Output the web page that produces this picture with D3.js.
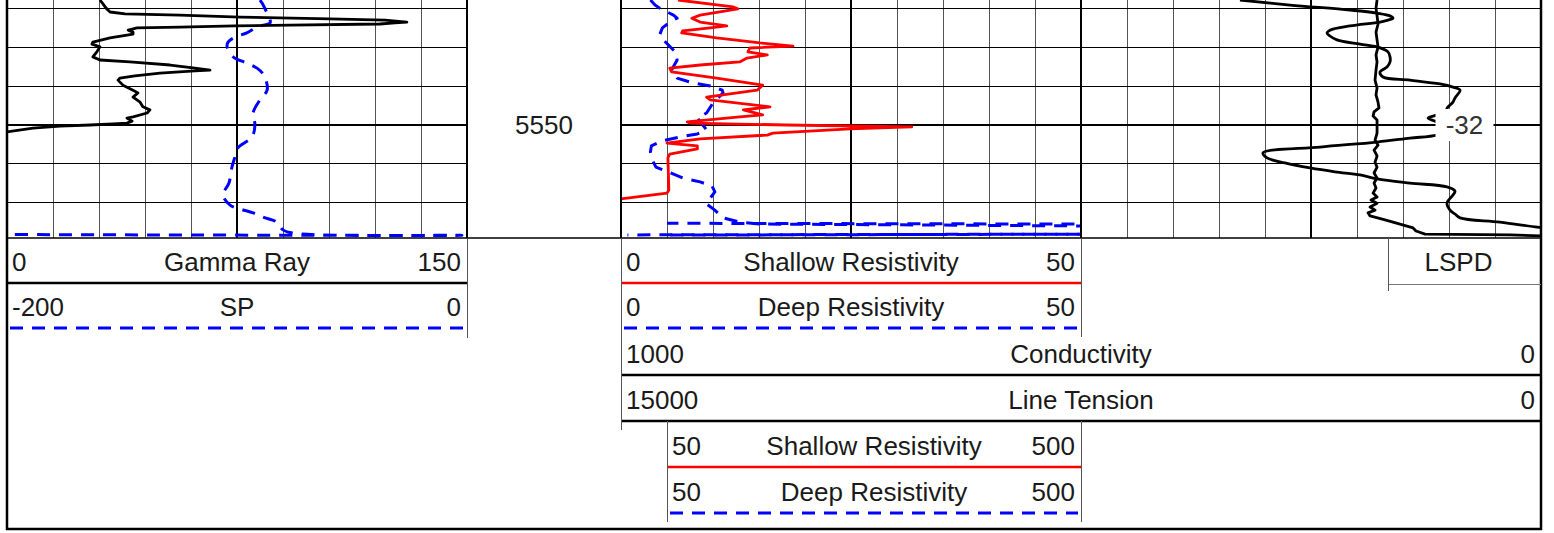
<!DOCTYPE html>
<html>
<head>
<meta charset="utf-8">
<script src="https://cdnjs.cloudflare.com/ajax/libs/d3/7.8.5/d3.min.js"></script>
<style>
body { margin: 0; background: #fff; }
text { font-family: "Liberation Sans", Arial, sans-serif; fill: #1a1a1a; }
</style>
</head>
<body>
<div id="log"></div>
<script>
// depth curves (depth in ft, value in curve units)
var grDepth = [5517.7,5518.7,5519.8,5520.8,5521.3,5521.6,5522.1,5522.6,5522.9,5523.4,5523.6,5523.9,5524.2,5524.4,5524.7,5524.9,5525.5,5526.0,5526.5,5527.5,5528.6,5529.1,5529.8,5531.1,5532.4,5533.2,5533.7,5534.5,5535.3,5535.8,5536.0,5536.6,5537.3,5537.9,5538.4,5539.7,5541.0,5541.7,5542.8,5544.1,5545.3,5546.1,5546.9,5547.9,5548.2,5549.0,5549.5,5549.7,5550.0,5550.3,5550.8,5551.8];
var grValue = [30.3,31.3,32.3,33.6,38.5,56.4,76.0,105.3,123.3,130.4,126.5,121.6,92.3,74.3,56.4,42.4,39.5,41.1,41.1,33.6,28.0,27.7,30.3,29.3,28.0,30.3,40.1,53.2,61.3,66.2,61.3,49.9,41.7,36.8,36.2,37.8,41.1,42.7,41.1,43.4,44.3,46.6,45.7,41.1,39.1,40.8,39.1,34.6,27.1,17.3,8.5,0];

var spDepth = [5517.7,5518.5,5521.1,5522.9,5523.6,5524.7,5526.2,5527.3,5528.6,5529.8,5532.4,5534.0,5535.3,5536.8,5538.4,5541.0,5543.5,5546.9,5550.0,5553.1,5555.9,5558.3,5560.9,5565.0,5568.1,5570.7,5571.7,5572.7,5573.8,5575.1,5577.1,5578.0,5578.5,5578.3];
var spValue = [-90.0,-89.1,-86.9,-85.6,-85.6,-91.3,-95.7,-100.9,-103.9,-104.3,-101.7,-95.7,-91.3,-88.7,-87.4,-86.9,-90.0,-93.0,-92.2,-93.5,-99.6,-100.9,-102.2,-103.5,-106.1,-103.0,-98.7,-93.0,-88.7,-82.6,-80.0,-74.8,-2.2,-200];

var shallowDepth = [5517.7,5519.5,5520.0,5521.6,5522.4,5523.4,5524.4,5524.9,5525.7,5526.2,5527.5,5528.8,5529.6,5530.1,5531.1,5531.9,5532.7,5533.7,5534.5,5535.3,5536.3,5537.9,5539.7,5541.0,5542.8,5543.5,5545.3,5546.1,5547.4,5547.9,5549.2,5549.5,5550.0,5550.5,5551.0,5552.1,5552.6,5553.6,5554.7,5555.4,5556.2,5557.5,5558.5,5566.8,5567.6,5569.1];
var shallowValue = [6.2,12.2,12.7,8.6,7.7,8.6,11.5,9.7,6.7,6.6,10.4,15.1,18.7,14.0,13.8,15.9,13.7,12.9,8.6,5.3,5.5,10.4,15.4,14.8,9.3,9.7,16.2,13.3,15.4,12.9,7.2,7.5,18.0,31.6,24.9,16.5,15.9,8.6,5.0,8.3,8.3,5.3,5.1,5.2,5.0,0];

var deepDepth = [5517.7,5519.0,5519.8,5521.6,5522.4,5523.1,5524.9,5526.7,5528.0,5531.1,5533.2,5535.8,5537.9,5539.1,5539.9,5541.0,5541.7,5544.3,5546.9,5548.2,5550.0,5551.3,5552.3,5553.1,5554.1,5555.4,5557.0,5559.0,5560.9,5562.1,5563.7,5564.7,5565.8,5567.3,5568.9,5570.4,5572.0,5574.0,5575.1,5575.6,5575.8,5576.1,5578.2,5578.4];
var deepValue = [3.2,3.7,4.2,5.7,6.1,5.5,4.5,4.2,4.6,5.9,6.1,5.5,6.1,7.8,9.7,11.0,11.1,10.0,9.3,8.3,8.9,9.3,8.3,6.4,4.5,3.3,3.2,3.4,3.8,5.1,6.7,8.6,9.9,10.2,9.7,9.3,10.2,11.1,12.9,15.1,30.3,51.0,51.0,0.7];

// deep resistivity on the 50-500 backup scale
var deepBackDepth = [5575.4,5575.6,5578.2,5578.45];
var deepBackValue = [50,500,510,50];

var condDepth = [5517.7,5519.0,5520.3,5521.1,5521.8,5522.4,5522.9,5523.4,5524.4,5525.5,5526.2,5527.0,5528.0,5529.1,5529.8,5531.1,5532.4,5533.7,5535.0,5536.3,5537.6,5538.4,5539.4,5540.2,5541.0,5542.0,5543.0,5544.1,5545.3,5546.6,5547.4,5548.2,5549.0,5549.7,5551.3,5552.6,5553.4,5554.4,5555.7,5557.2,5558.5,5559.8,5561.1,5562.1,5562.9,5563.9,5565.0,5566.0,5567.1,5568.1,5570.2,5572.0,5573.0,5574.0,5575.1,5576.4,5576.6];
var condValue = [327.2,272.8,207.6,178.3,164.1,160.9,166.3,175.0,207.6,229.4,232.6,229.4,221.8,196.7,178.3,166.3,164.1,164.1,167.4,175.0,171.7,142.4,109.8,95.7,88.0,90.2,93.5,95.7,101.1,104.4,113.0,122.8,115.2,108.7,98.9,113.0,142.4,178.3,240.2,302.2,297.8,278.3,251.1,223.9,196.7,178.3,142.4,102.2,93.5,95.7,102.2,98.9,93.5,88.0,44.6,4.3,-4.3];

var tensionDepth = [5517.7,5519.8,5521.8,5523.9,5526.0,5528.0,5529.8,5531.9,5533.7,5535.8,5538.4,5540.4,5542.2,5544.1,5545.6,5546.6,5547.7,5548.7,5550.5,5552.1,5553.9,5555.2,5556.5,5558.0,5559.6,5560.9,5562.4,5563.7,5565.0,5566.3,5567.6,5568.6,5569.4,5570.2,5571.2,5572.0,5572.7,5573.5,5574.5,5575.6,5576.6,5577.4,5578.2,5578.4,5578.7];
var tensionValue = [2673,2690,2673,2657,2690,2673,2657,2690,2673,2690,2706,2673,2690,2657,2641,2722,2738,2673,2673,2673,2706,2657,2722,2673,2706,2673,2722,2673,2722,2690,2738,2673,2771,2673,2787,2706,2820,2787,2543,2299,2086,2038,1891,505,-65];

// LSPD value shown on the log
var lspdDepth = [5550];
var lspdValue = [-32];

// depth labels and grid
var depthLabels = [5550];
var gridDepths = [5520, 5530, 5540, 5550, 5560, 5570];

// header text: name, left scale value, right scale value
var curveNames = ["Gamma Ray", "SP", "Shallow Resistivity", "Deep Resistivity", "Conductivity", "Line Tension", "Shallow Resistivity", "Deep Resistivity"];
var scaleLeft = [0, -200, 0, 0, 1000, 15000, 50, 50];
var scaleRight = [150, 0, 50, 50, 0, 0, 500, 500];

var svgWidth = 1554;
var svgHeight = 533;
var logTop = 0;
var logBottom = 238;
var fontSize = "26px";
var dashed = "13,9";

var track1 = [7, 467];
var depthTrack = [467, 621];
var track3 = [621, 1081];
var track4 = [1081, 1541];

var svg = d3.select("#log")
    .append("svg")
    .attr("width", svgWidth)
    .attr("height", svgHeight);

var y = d3.scaleLinear().domain([5517.7, 5579.2]).range([logTop, logBottom]);

// curve scales
var xGR = d3.scaleLinear().domain([scaleLeft[0], scaleRight[0]]).range(track1);
var xSP = d3.scaleLinear().domain([scaleLeft[1], scaleRight[1]]).range(track1);
var xShallow = d3.scaleLinear().domain([scaleLeft[2], scaleRight[2]]).range(track3);
var xDeep = d3.scaleLinear().domain([scaleLeft[3], scaleRight[3]]).range(track3);
var xCond = d3.scaleLinear().domain([scaleLeft[4], scaleRight[4]]).range([track3[0], track4[1]]);
var xTension = d3.scaleLinear().domain([scaleLeft[5], scaleRight[5]]).range([track3[0], track4[1]]);
var xDeepBack = d3.scaleLinear().domain([scaleLeft[7], scaleRight[7]]).range([667, track3[1]]);

// clip paths
var defs = svg.append("defs");
function addClip(id, x0, x1) {
    defs.append("clipPath").attr("id", id)
        .append("rect")
        .attr("x", x0).attr("y", logTop)
        .attr("width", x1 - x0).attr("height", logBottom - logTop);
}
addClip("clip1", track1[0], track1[1]);
addClip("clip3", track3[0], track3[1]);
addClip("clip34", track3[0], track4[1]);

// grid
var grid = svg.append("g").attr("shape-rendering", "crispEdges");
function drawGrid(range) {
    var gx = d3.scaleLinear().domain([0, 10]).range(range);
    d3.range(1, 10).forEach(function(i) {
        grid.append("line")
            .attr("x1", gx(i)).attr("x2", gx(i))
            .attr("y1", logTop).attr("y2", logBottom)
            .attr("stroke", i == 5 ? "#000" : "#555")
            .attr("stroke-width", i == 5 ? 2 : 1);
    });
    gridDepths.forEach(function(d) {
        grid.append("line")
            .attr("x1", range[0]).attr("x2", range[1])
            .attr("y1", y(d)).attr("y2", y(d))
            .attr("stroke", "#000")
            .attr("stroke-width", d % 50 == 0 ? 2 : 1);
    });
}
drawGrid(track1);
drawGrid(track3);
drawGrid(track4);

// depth labels
svg.selectAll(".depth-label")
    .data(depthLabels)
    .enter()
    .append("text")
    .attr("class", "depth-label")
    .attr("x", (depthTrack[0] + depthTrack[1]) / 2)
    .attr("y", function(d) { return y(d) + 9; })
    .attr("text-anchor", "middle")
    .attr("font-size", fontSize)
    .text(function(d) { return d; });

// curves
function drawCurve(depths, values, xScale, clip, color, width, dash, curve) {
    var line = d3.line()
        .x(function(d) { return xScale(d[1]); })
        .y(function(d) { return y(d[0]); })
        .curve(curve || d3.curveLinear);
    return svg.append("path")
        .datum(d3.zip(depths, values))
        .attr("clip-path", "url(#" + clip + ")")
        .attr("d", line)
        .attr("fill", "none")
        .attr("stroke", color)
        .attr("stroke-width", width)
        .attr("stroke-linejoin", "round")
        .attr("stroke-dasharray", dash);
}

drawCurve(spDepth, spValue, xSP, "clip1", "#0000ff", 3, dashed, d3.curveCatmullRom);
drawCurve(grDepth, grValue, xGR, "clip1", "#000", 2.8, null);
var deepPath = drawCurve(deepDepth, deepValue, xDeep, "clip3", "#0000ff", 3, dashed);
var deepBackPath = drawCurve(deepBackDepth, deepBackValue, xDeepBack, "clip3", "#0000ff", 3, dashed);
drawCurve(shallowDepth, shallowValue, xShallow, "clip3", "#ff0000", 2.8, null);
drawCurve(condDepth, condValue, xCond, "clip34", "#000", 2.8, null, d3.curveCatmullRom);
drawCurve(tensionDepth, tensionValue, xTension, "clip34", "#000", 2.8, null);

// shift the backup dashes half a period against the main deep curve
// where both run back along the bottom of the track
var nD = deepValue.length - 1, nB = deepBackValue.length - 1;
var dLast = Math.hypot(xDeep(deepValue[nD]) - xDeep(deepValue[nD - 1]), y(deepDepth[nD]) - y(deepDepth[nD - 1]));
var bLast = Math.hypot(xDeepBack(deepBackValue[nB]) - xDeepBack(deepBackValue[nB - 1]), y(deepBackDepth[nB]) - y(deepBackDepth[nB - 1]));
var phaseD = deepPath.node().getTotalLength() - dLast;
var phaseB = deepBackPath.node().getTotalLength() - bLast;
deepBackPath.attr("stroke-dashoffset", (((phaseD + 11 - phaseB) % 22) + 22) % 22);

// LSPD value label
var lspdX = 1464.5;
lspdDepth.forEach(function(d, i) {
    svg.append("rect")
        .attr("x", lspdX - 29).attr("y", y(d) - 16)
        .attr("width", 58).attr("height", 32)
        .attr("fill", "#fff");
    svg.append("text")
        .attr("x", lspdX)
        .attr("y", y(d) + 9)
        .attr("text-anchor", "middle")
        .attr("font-size", fontSize)
        .style("fill", "#333")
        .text(lspdValue[i]);
});

// track borders
var borders = svg.append("g").attr("stroke", "#000").attr("fill", "none");
[track1[1], track3[0], track3[1]].forEach(function(x) {
    borders.append("line").attr("x1", x).attr("x2", x)
        .attr("y1", logTop).attr("y2", logBottom).attr("stroke-width", 2);
});
borders.append("line")
    .attr("x1", track1[0]).attr("x2", track4[1])
    .attr("y1", logBottom).attr("y2", logBottom)
    .attr("stroke-width", 1.5);
borders.append("path")
    .attr("d", "M" + track1[0] + "," + logTop + "V529H" + track4[1] + "V" + logTop)
    .attr("stroke-width", 2.5);

// header rows below the log
var rows = [
    {x0: 7, x1: 467, y0: 238, y1: 283, color: "#000", dash: null},
    {x0: 7, x1: 467, y0: 283, y1: 328, color: "#0000ff", dash: dashed},
    {x0: 621, x1: 1081, y0: 238, y1: 283, color: "#ff0000", dash: null},
    {x0: 621, x1: 1081, y0: 283, y1: 328, color: "#0000ff", dash: dashed},
    {x0: 621, x1: 1541, y0: 330, y1: 375, color: "#000", dash: null},
    {x0: 621, x1: 1541, y0: 375, y1: 421, color: "#000", dash: null},
    {x0: 667, x1: 1081, y0: 421, y1: 467, color: "#ff0000", dash: null},
    {x0: 667, x1: 1081, y0: 467, y1: 513, color: "#0000ff", dash: dashed}
];

rows.forEach(function(r, i) {
    var base = (r.y0 + r.y1) / 2 + 10.5;
    svg.append("text").attr("x", r.x0 + 5).attr("y", base)
        .attr("font-size", fontSize).text(scaleLeft[i]);
    svg.append("text").attr("x", (r.x0 + r.x1) / 2).attr("y", base)
        .attr("text-anchor", "middle").attr("font-size", fontSize).text(curveNames[i]);
    svg.append("text").attr("x", r.x1 - 6).attr("y", base)
        .attr("text-anchor", "end").attr("font-size", fontSize).text(scaleRight[i]);
    svg.append("line")
        .attr("x1", r.dash ? r.x0 + 3 : r.x0).attr("x2", r.dash ? r.x1 - 3 : r.x1)
        .attr("y1", r.y1).attr("y2", r.y1)
        .attr("stroke", r.color)
        .attr("stroke-width", r.dash ? 3 : 2.5)
        .attr("stroke-dasharray", r.dash);
});

// LSPD header box
svg.append("text").attr("x", lspdX - 6).attr("y", 271)
    .attr("text-anchor", "middle").attr("font-size", fontSize).text("LSPD");
svg.append("line").attr("x1", 1388).attr("x2", 1541).attr("y1", 284.5).attr("y2", 284.5)
    .attr("stroke", "#777").attr("stroke-width", 1);

// header separators
var seps = [[467, 238, 338], [621, 238, 430], [1081, 238, 337], [1081, 421, 522], [667, 421, 522], [1388, 238, 291]];
seps.forEach(function(s) {
    svg.append("line")
        .attr("x1", s[0] + 0.5).attr("x2", s[0] + 0.5)
        .attr("y1", s[1]).attr("y2", s[2])
        .attr("stroke", "#555").attr("stroke-width", 1);
});
</script>
</body>
</html>
